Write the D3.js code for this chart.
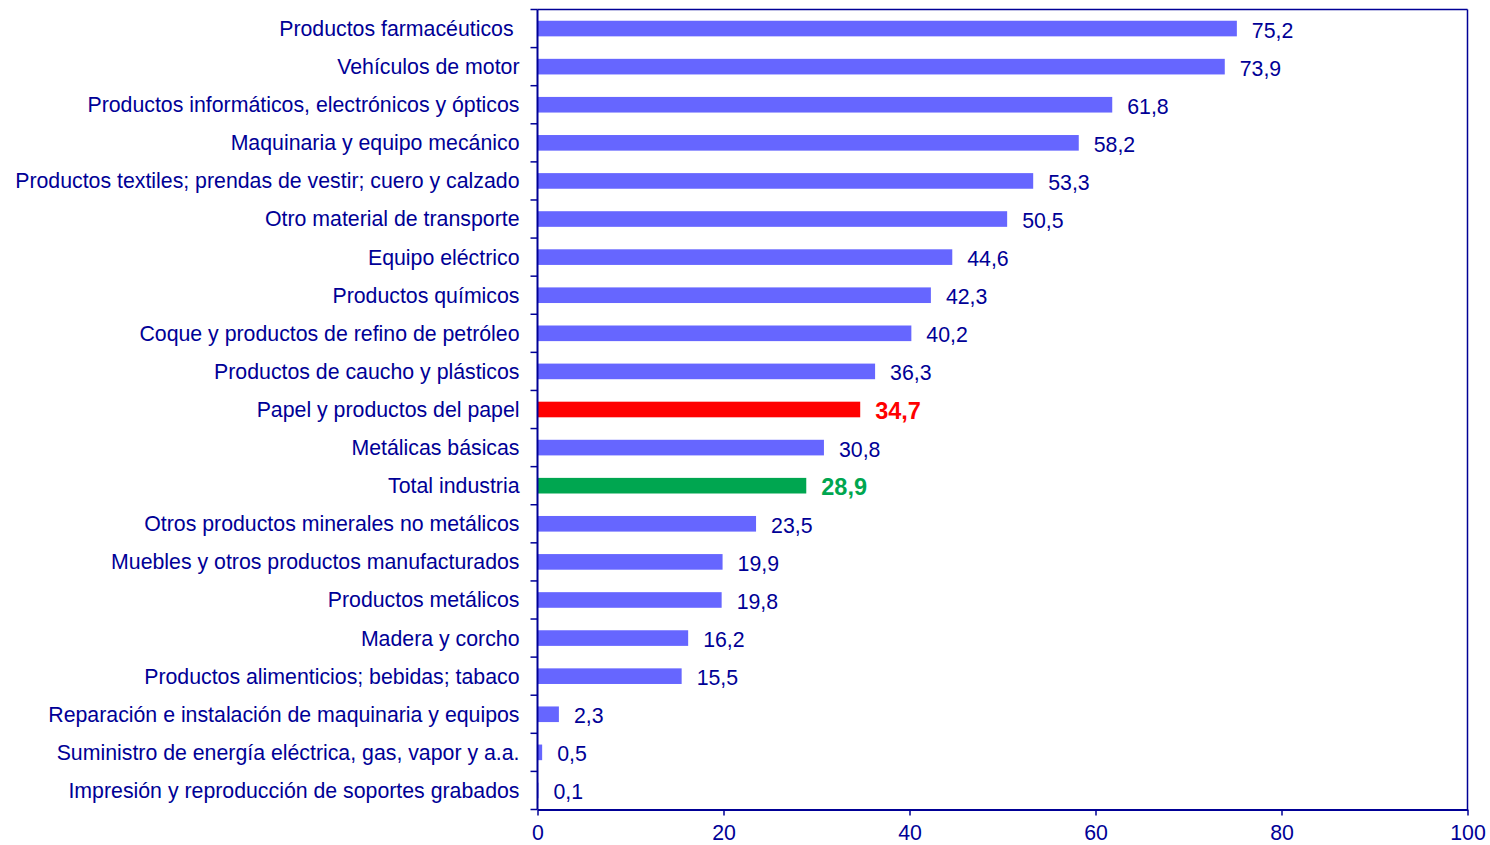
<!DOCTYPE html>
<html><head><meta charset="utf-8">
<script src="https://cdn.jsdelivr.net/npm/d3@7"></script>
<style>body{margin:0;background:#fff;} text{font-family:"Liberation Sans",Arial,sans-serif;}</style>
</head><body>
<svg id="c" width="1490" height="845"></svg>
<script>
const categories = [
"Productos farmacéuticos ","Vehículos de motor","Productos informáticos, electrónicos y ópticos","Maquinaria y equipo mecánico","Productos textiles; prendas de vestir; cuero y calzado","Otro material de transporte","Equipo eléctrico","Productos químicos","Coque y productos de refino de petróleo","Productos de caucho y plásticos","Papel y productos del papel","Metálicas básicas","Total industria","Otros productos minerales no metálicos","Muebles y otros productos manufacturados","Productos metálicos","Madera y corcho","Productos alimenticios; bebidas; tabaco","Reparación e instalación de maquinaria y equipos","Suministro de energía eléctrica, gas, vapor y a.a.","Impresión y reproducción de soportes grabados"];
const values = [75.2,73.9,61.8,58.2,53.3,50.5,44.6,42.3,40.2,36.3,34.7,30.8,28.9,23.5,19.9,19.8,16.2,15.5,2.3,0.5,0.1];
const highlight = {"Papel y productos del papel":"#FF0000","Total industria":"#00A650"};
const xTicks = [0,20,40,60,80,100];

const navy = "#000096";
const FS = 21.3;
const svg = d3.select("#c");
const L=537.5, R=1467.5, T=9.5, B=809.5;
const x = d3.scaleLinear().domain([0,100]).range([L,R]);
const y = d3.scaleBand().domain(categories).range([T,B]).paddingInner(0.59).paddingOuter(0.295);

// bars
svg.append("g").selectAll("rect").data(categories).join("rect")
  .attr("x", x(0)).attr("y", d=>y(d))
  .attr("width", (d,i)=>x(values[i])-x(0)).attr("height", y.bandwidth())
  .attr("fill", d=>highlight[d]||"#6666FF");

// value labels
svg.append("g").selectAll("text").data(categories).join("text")
  .attr("x",(d,i)=>x(values[i])+15).attr("y", d=>y(d)+y.bandwidth()/2+1.5)
  .attr("dy","0.35em").attr("font-size",d=>highlight[d]?23.5:FS)
  .attr("fill", d=>highlight[d]||navy)
  .attr("font-weight", d=>highlight[d]?"bold":"normal")
  .text((d,i)=>d3.format(".1f")(values[i]).replace(".",","));

// category labels
svg.append("g").selectAll("text").data(categories).join("text")
  .attr("x", L-18).attr("y", d=>y(d)+y.bandwidth()/2)
  .attr("dy","0.35em").attr("text-anchor","end").attr("font-size",FS).attr("fill",navy)
  .style("white-space","pre")
  .text(d=>d);

// frame top/right
svg.append("line").attr("x1",L).attr("x2",R).attr("y1",T).attr("y2",T).attr("stroke",navy).attr("stroke-width",1.5);
svg.append("line").attr("x1",R).attr("x2",R).attr("y1",T).attr("y2",B).attr("stroke",navy).attr("stroke-width",1.5);

// y axis with ticks at band boundaries
const bounds = d3.range(categories.length+1).map(i=>T+i*(B-T)/categories.length);
svg.append("line").attr("x1",L).attr("x2",L).attr("y1",T).attr("y2",B).attr("stroke",navy).attr("stroke-width",2);
svg.append("g").selectAll("line").data(bounds).join("line")
  .attr("x1",L-7).attr("x2",L).attr("y1",d=>d).attr("y2",d=>d).attr("stroke",navy).attr("stroke-width",1.5);

// x axis
const xa = svg.append("g").attr("transform",`translate(0,${B})`)
  .call(d3.axisBottom(x).tickValues(xTicks).tickSize(6).tickSizeOuter(0).tickPadding(9));
xa.select(".domain").attr("stroke",navy).attr("stroke-width",2);
xa.selectAll(".tick line").attr("stroke",navy).attr("stroke-width",1.5);
xa.selectAll(".tick text").attr("fill",navy).attr("font-size",FS).style("font-family","Liberation Sans, Arial, sans-serif");
</script>
</body></html>
